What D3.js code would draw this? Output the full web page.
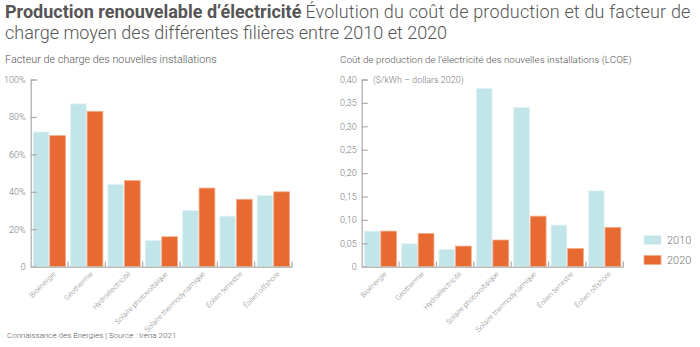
<!DOCTYPE html>
<html>
<head>
<meta charset="utf-8">
<script src="https://cdn.jsdelivr.net/npm/d3@7"></script>
<style>
body { margin:0; background:#fff; }
svg text { font-family: Roboto, "Noto Sans", sans-serif; }
</style>
</head>
<body>
<svg id="chart"></svg>
<script>
var categories = ["Bioénergie", "Géothermie", "Hydroélectricité", "Solaire photovoltaïque", "Solaire thermodynamique", "Éolien terrestre", "Éolien offshore"];
var years = ["2010", "2020"];

var facteur2010 = [72, 87, 44, 14, 30, 27, 38];
var facteur2020 = [70, 83, 46, 16, 42, 36, 40];

var lcoe2010 = [0.076, 0.049, 0.037, 0.381, 0.340, 0.089, 0.162];
var lcoe2020 = [0.076, 0.071, 0.044, 0.057, 0.108, 0.039, 0.084];

var facteurTicks = [0, 20, 40, 60, 80, 100];
var lcoeTicks = [0, 0.05, 0.10, 0.15, 0.20, 0.25, 0.30, 0.35, 0.40];

var colors = {"2010": "#c2e5ea", "2020": "#e66a32"};
var strokes = {"2010": "#e3f3f5", "2020": "#f4ab85"};

var screen = {width: 700, height: 347};

var svg = d3.select("#chart")
    .attr("width", screen.width)
    .attr("height", screen.height);

// title
var title = svg.append("text")
    .attr("x", 5)
    .attr("y", 18)
    .attr("font-size", 18)
    .attr("fill", "#555");
title.append("tspan")
    .attr("font-weight", 700)
    .text("Production renouvelable d’électricité");
title.append("tspan")
    .attr("font-weight", 300)
    .attr("dx", 4)
    .attr("textLength", 385)
    .text("Évolution du coût de production et du facteur de");

svg.append("text")
    .attr("x", 5)
    .attr("y", 39)
    .attr("font-size", 18)
    .attr("font-weight", 300)
    .attr("fill", "#555")
    .text("charge moyen des différentes filières entre 2010 et 2020");

svg.append("text")
    .attr("x", 7)
    .attr("y", 338)
    .attr("font-size", 8)
    .attr("font-weight", 300)
    .attr("fill", "#555")
    .text("Connaissance des Énergies | Source : Irena 2021");

var makeRows = function(a, b)
{
    return categories.map(function(c, i)
    {
        return {cat: c, "2010": a[i], "2020": b[i]};
    });
}

var drawPanel = function(opts)
{
    var g = svg.append("g");

    g.append("text")
        .attr("x", opts.titleX)
        .attr("y", 63)
        .attr("font-size", opts.titleSize)
        .attr("font-weight", 300)
        .attr("fill", "#555")
        .text(opts.title);

    var xscale = d3.scaleBand()
        .domain(categories)
        .range([opts.x0, opts.x1]);

    var inner = d3.scaleBand()
        .domain(years)
        .range([0, xscale.bandwidth()])
        .paddingInner(0.05)
        .paddingOuter(0.15);

    var yscale = d3.scaleLinear()
        .domain([0, opts.max])
        .range([266.7, 79.5]);

    // bars
    var groups = g.selectAll("g.grp")
        .data(opts.rows)
        .enter()
        .append("g")
        .attr("class", "grp")
        .attr("transform", function(d){return "translate(" + xscale(d.cat) + ",0)"});

    groups.selectAll("rect")
        .data(function(d){return years.map(function(y){return {year: y, v: d[y]}})})
        .enter()
        .append("rect")
        .attr("x", function(d){return inner(d.year)})
        .attr("width", inner.bandwidth())
        .attr("y", function(d){return yscale(d.v)})
        .attr("height", function(d){return yscale(0) - yscale(d.v)})
        .attr("fill", function(d){return colors[d.year]})
        .attr("stroke", function(d){return strokes[d.year]})
        .attr("stroke-width", 0.8);

    // y axis
    var yAxis = d3.axisLeft(yscale)
        .tickValues(opts.ticks)
        .tickSize(-6)
        .tickPadding(5)
        .tickFormat(opts.format);

    var ya = g.append("g")
        .attr("transform", "translate(" + opts.x0 + ",0)")
        .call(yAxis);
    ya.select(".domain").attr("stroke", "#aaa").attr("stroke-width", 1.2);
    ya.selectAll(".tick line").attr("stroke", "#aaa").attr("stroke-width", 1.2);
    ya.selectAll(".tick text")
        .attr("font-size", 9)
        .attr("font-weight", 300)
        .attr("fill", "#777")
        .attr("font-family", "Roboto, sans-serif");

    // x axis
    var xAxis = d3.axisBottom(xscale)
        .tickSize(0)
        .tickPadding(6);
    var xa = g.append("g")
        .attr("transform", "translate(0,266.7)")
        .call(xAxis);
    xa.select(".domain").attr("stroke", "#bbb").attr("stroke-width", 1.5);
    xa.selectAll(".tick text")
        .attr("font-size", 7.3)
        .attr("font-weight", 300)
        .attr("fill", "#888")
        .attr("font-family", "Roboto, sans-serif")
        .attr("text-anchor", "end")
        .attr("dy", "0.3em")
        .attr("transform", "translate(1,2) rotate(-45)");

    // small separators between groups
    var seps = categories.slice(1).map(function(c){return xscale(c)});
    seps.push(opts.x1);
    g.selectAll("line.sep")
        .data(seps)
        .enter()
        .append("line")
        .attr("class", "sep")
        .attr("x1", function(d){return d})
        .attr("x2", function(d){return d})
        .attr("y1", 266.7)
        .attr("y2", 261.5)
        .attr("stroke", "#aaa")
        .attr("stroke-width", 1.2);
}

drawPanel({
    title: "Facteur de charge des nouvelles installations",
    titleX: 5,
    titleSize: 10.8,
    x0: 30.7, x1: 292,
    max: 100,
    ticks: facteurTicks,
    format: function(d){return d == 0 ? "0" : d + "%"},
    rows: makeRows(facteur2010, facteur2020)
});

drawPanel({
    title: "Coût de production de l’électricité des nouvelles installations (LCOE)",
    titleX: 340,
    titleSize: 9.9,
    x0: 361.7, x1: 623.3,
    max: 0.40,
    ticks: lcoeTicks,
    format: function(d){return d == 0 ? "0" : d3.format(".2f")(d).replace(".", ",")},
    rows: makeRows(lcoe2010, lcoe2020)
});

svg.append("text")
    .attr("x", 373)
    .attr("y", 83)
    .attr("font-size", 9)
    .attr("font-weight", 300)
    .attr("fill", "#777")
    .text("($/kWh – dollars 2020)");

// legend
var legend = svg.selectAll("g.leg")
    .data(years)
    .enter()
    .append("g")
    .attr("class", "leg")
    .attr("transform", function(d, i){return "translate(644," + (235.5 + i * 20) + ")"});
legend.append("rect")
    .attr("width", 17)
    .attr("height", 9)
    .attr("fill", function(d){return colors[d]})
    .attr("stroke", function(d){return strokes[d]})
    .attr("stroke-width", 0.8);
legend.append("text")
    .attr("x", 23)
    .attr("y", 8.5)
    .attr("font-size", 11)
    .attr("font-weight", 300)
    .attr("fill", "#777")
    .text(function(d){return d});
</script>
</body>
</html>
